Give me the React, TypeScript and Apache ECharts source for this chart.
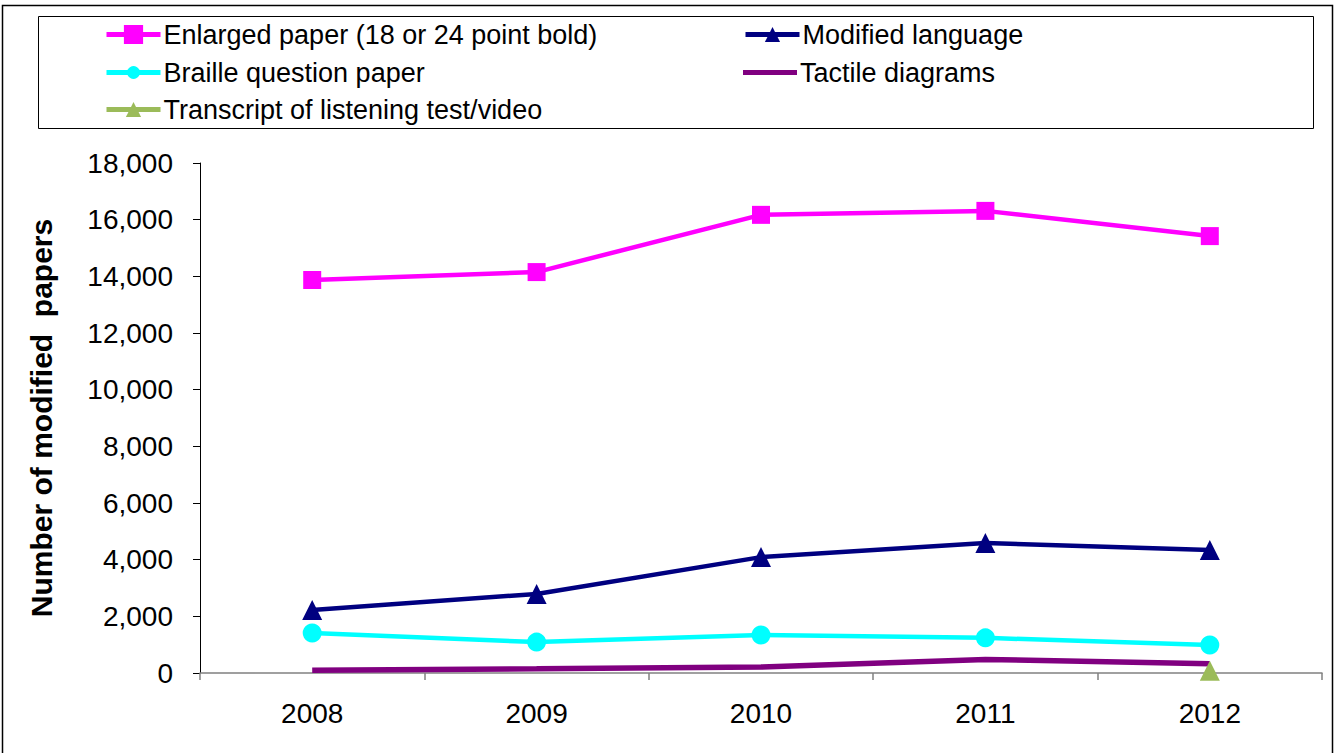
import React, { useEffect, useRef } from "react";
import * as echarts from "echarts";

const years = ["2008", "2009", "2010", "2011", "2012"];
const enlarged = [13870, 14150, 16170, 16310, 15420];
const modified = [2220, 2790, 4090, 4590, 4340];
const braille = [1410, 1090, 1340, 1240, 990];
const tactile = [100, 150, 210, 480, 330];
const transcript = [null, null, null, null, 80];

const names = [
  "Enlarged paper (18 or 24 point bold)",
  "Modified language",
  "Braille question paper",
  "Tactile diagrams",
  "Transcript of listening test/video",
];
const colors = ["#FF00FF", "#000080", "#00FFFF", "#800080", "#9BBB59"];

const FONT = "'Liberation Sans', Arial, sans-serif";

export default function App() {
  const ref = useRef<HTMLDivElement>(null);
  useEffect(() => {
    if (!ref.current) return;
    const chart = echarts.init(ref.current, undefined, { renderer: "svg" });
    const legendCfg = [
      { left: 104, top: 35, h: 24 },
      { left: 743, top: 35, h: 19 },
      { left: 104, top: 73, h: 16 },
      { left: 743, top: 73, h: 5 },
      { left: 104, top: 110, h: 19 },
    ];
    const legends = names.map((n, i) => ({
      data: [i === 3 ? { name: n, icon: "rect" } : n],
      left: legendCfg[i].left,
      top: legendCfg[i].top - 14,
      itemWidth: 54,
      itemHeight: legendCfg[i].h,
      itemGap: 0,
      padding: 0,
      selectedMode: false,
      lineStyle: { width: 5 },
      textStyle: { fontFamily: FONT, fontSize: 27, color: "#000", padding: [0, 0, 0, -2] },
    }));
    const mk = (
      i: number,
      data: (number | null)[],
      symbol: string,
      size: number,
      width: number
    ) => ({
      name: names[i],
      type: "line",
      data,
      symbol,
      symbolSize: size,
      showSymbol: symbol !== "none",
      lineStyle: { color: colors[i], width },
      itemStyle: { color: colors[i] },
      connectNulls: false,
    });
    chart.setOption({
      animation: false,
      backgroundColor: "#fff",
      legend: legends,
      graphic: [
        {
          type: "rect",
          shape: { x: 2.5, y: 5.5, width: 1330, height: 770 },
          style: { fill: "none", stroke: "#000", lineWidth: 1.5 },
          silent: true,
        },
        {
          type: "rect",
          shape: { x: 38.5, y: 16.5, width: 1275, height: 112 },
          style: { fill: "none", stroke: "#000", lineWidth: 1 },
          silent: true,
        },
      ],
      grid: { left: 200, top: 163, right: 19, bottom: 80, containLabel: false },
      xAxis: {
        type: "category",
        data: years,
        boundaryGap: true,
        axisLine: { lineStyle: { color: "#808080", width: 1.5 } },
        axisTick: { show: true, length: 7, lineStyle: { color: "#808080", width: 1.5 } },
        axisLabel: { fontFamily: FONT, fontSize: 28, color: "#000", margin: 26 },
        splitLine: { show: false },
      },
      yAxis: {
        type: "value",
        min: 0,
        max: 18000,
        interval: 2000,
        name: "Number of modified  papers",
        nameLocation: "middle",
        nameRotate: 90,
        nameGap: 144,
        nameTextStyle: { fontFamily: FONT, fontSize: 30, fontWeight: "bold", color: "#000" },
        axisLine: { show: true, lineStyle: { color: "#000", width: 1 } },
        axisTick: { show: true, length: 7, lineStyle: { color: "#000", width: 1 } },
        axisLabel: {
          fontFamily: FONT,
          fontSize: 28,
          color: "#000",
          margin: 27,
          formatter: (v: number) => v.toLocaleString("en-US"),
        },
        splitLine: { show: false },
      },
      series: [
        mk(0, enlarged, "rect", 18, 4.5),
        mk(1, modified, "triangle", 20, 4.5),
        mk(2, braille, "circle", 19, 4.5),
        mk(3, tactile, "none", 0, 5.5),
        mk(4, transcript, "triangle", 20, 4.5),
      ],
    });
    return () => chart.dispose();
  }, []);
  return (
    <div
      ref={ref}
      style={{ position: "fixed", left: 0, top: 0, width: 1341, height: 753 }}
    />
  );
}
